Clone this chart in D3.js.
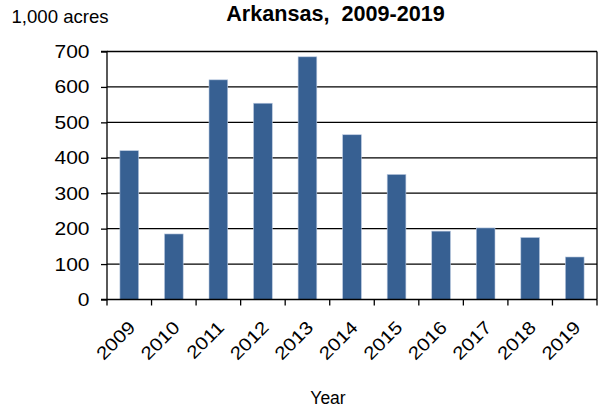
<!DOCTYPE html>
<html>
<head>
<meta charset="utf-8">
<script src="https://cdn.jsdelivr.net/npm/d3@7"></script>
<style>
  body { margin: 0; background: #fff; }
  text { font-family: "Liberation Sans", Arial, sans-serif; fill: #000; }
</style>
</head>
<body>
<div id="chart"></div>
<script>
var years = ["2009", "2010", "2011", "2012", "2013", "2014", "2015", "2016", "2017", "2018", "2019"];
var acres = [420, 185, 620, 554, 685, 465, 353, 193, 202, 175, 120];
var yTicks = [0, 100, 200, 300, 400, 500, 600, 700];

var svgWidth = 601;
var svgHeight = 409;

var margin = { top: 51.5, bottom: 109.5, right: 4, left: 107 };
var width = svgWidth - margin.left - margin.right;
var height = svgHeight - margin.top - margin.bottom;

var svg = d3.select("#chart")
  .append("svg")
  .attr("width", svgWidth)
  .attr("height", svgHeight);

var chartGroup = svg.append("g")
  .attr("transform", `translate(${margin.left}, ${margin.top})`);

var xScale = d3.scaleBand()
  .domain(years)
  .range([0, width])
  .paddingInner(0.58)
  .paddingOuter(0.29);

var yScale = d3.scaleLinear()
  .domain([0, 700])
  .range([height, 0]);

// gridlines
chartGroup.selectAll(".grid")
  .data(yTicks.filter(d => d > 0))
  .enter()
  .append("line")
  .attr("x1", 0)
  .attr("x2", width)
  .attr("y1", d => yScale(d))
  .attr("y2", d => yScale(d))
  .attr("stroke", "#000")
  .attr("stroke-width", 1.3);

// right border
chartGroup.append("line")
  .attr("x1", width).attr("x2", width)
  .attr("y1", 0).attr("y2", height)
  .attr("stroke", "#000")
  .attr("stroke-width", 1.3);

// bars
chartGroup.selectAll("rect")
  .data(acres)
  .enter()
  .append("rect")
  .attr("x", (d, i) => xScale(years[i]))
  .attr("y", d => yScale(d))
  .attr("width", xScale.bandwidth())
  .attr("height", d => height - yScale(d))
  .attr("fill", "#376092")
  .attr("stroke", "#b9c9e0")
  .attr("stroke-width", 0.6);

// y axis
var yAxis = d3.axisLeft(yScale)
  .tickValues(yTicks)
  .tickSize(6)
  .tickFormat(d3.format("d"));

var yAxisG = chartGroup.append("g").call(yAxis);
yAxisG.select(".domain").attr("stroke", "#000").attr("stroke-width", 1.3)
  .attr("d", `M-6,0H0V${height}H-6`);
yAxisG.selectAll(".tick line").attr("stroke", "#000").attr("stroke-width", 1.3);
yAxisG.selectAll(".tick text")
  .attr("x", 0)
  .attr("dy", "0.34em")
  .attr("transform", "translate(-17.5,0) scale(1.2,1)")
  .attr("font-size", "17.5px")
  .attr("font-family", "Liberation Sans, Arial, sans-serif")
  .attr("fill", "#000");

// x axis: ticks at category boundaries
var xAxisG = chartGroup.append("g")
  .attr("transform", `translate(0, ${height})`);

xAxisG.append("line")
  .attr("x1", 0).attr("x2", width)
  .attr("y1", 0).attr("y2", 0)
  .attr("stroke", "#000")
  .attr("stroke-width", 1.3);

xAxisG.selectAll(".xtick")
  .data(d3.range(years.length + 1))
  .enter()
  .append("line")
  .attr("x1", i => i * width / years.length)
  .attr("x2", i => i * width / years.length)
  .attr("y1", 0)
  .attr("y2", 6)
  .attr("stroke", "#000")
  .attr("stroke-width", 1.3);

xAxisG.selectAll(".xlabel")
  .data(years)
  .enter()
  .append("text")
  .attr("transform", d => `translate(${xScale(d) + xScale.bandwidth() / 2 + 7}, 29) rotate(-45) scale(1.15,1)`)
  .attr("text-anchor", "end")
  .attr("font-size", "18px")
  .text(d => d);

// title
svg.append("text")
  .attr("x", 335.5)
  .attr("y", 20.5)
  .attr("text-anchor", "middle")
  .attr("font-size", "21.6px")
  .attr("font-weight", "bold")
  .text("Arkansas,\u00a0 2009-2019");

// y unit label
svg.append("text")
  .attr("x", 11.5)
  .attr("y", 22.7)
  .attr("font-size", "18.6px")
  .text("1,000 acres");

// x axis label
svg.append("text")
  .attr("x", 328)
  .attr("y", 404)
  .attr("text-anchor", "middle")
  .attr("font-size", "17.5px")
  .text("Year");
</script>
</body>
</html>
